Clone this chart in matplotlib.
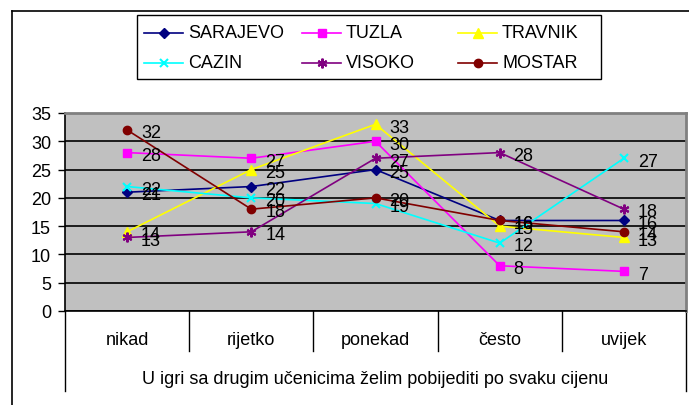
import matplotlib.pyplot as plt
from matplotlib.lines import Line2D
from matplotlib.patches import Rectangle

categories = ['nikad', 'rijetko', 'ponekad', 'često', 'uvijek']
sarajevo = [21, 22, 25, 16, 16]
tuzla = [28, 27, 30, 8, 7]
travnik = [14, 25, 33, 15, 13]
cazin = [22, 20, 19, 12, 27]
visoko = [13, 14, 27, 28, 18]
mostar = [32, 18, 20, 16, 14]
axis_title = 'U igri sa drugim učenicima želim pobijediti po svaku cijenu'

series = [
    ('SARAJEVO', sarajevo, '#000080', 'D', 5.5),
    ('TUZLA', tuzla, '#FF00FF', 's', 6),
    ('TRAVNIK', travnik, '#FFFF00', '^', 7),
    ('CAZIN', cazin, '#00FFFF', 'x', 6),
    ('VISOKO', visoko, '#800080', (6, 2, 0), 7),
    ('MOSTAR', mostar, '#800000', 'o', 6),
]

plt.rcParams['font.family'] = ['Liberation Sans', 'DejaVu Sans']

W, H = 689, 406


def px(x, y):
    # pixel position (from top-left) to figure fraction
    return x / W, 1 - y / H


fig = plt.figure(figsize=(W / 100, H / 100), dpi=100)
ax = fig.add_axes([65 / W, 1 - 312 / H, (686 - 65) / W, (312 - 114) / H])
ax.set_facecolor('#C0C0C0')

x = list(range(len(categories)))
styles = {}
for name, vals, col, mk, ms in series:
    mew = 1.5 if mk == 'x' or isinstance(mk, tuple) else 1
    kw = dict(color=col, marker=mk, markersize=ms, linewidth=1.2, markeredgewidth=mew)
    styles[name] = kw
    ax.plot(x, vals, zorder=3, **kw)
    for xi, v in zip(x, vals):
        ax.annotate(str(v), (xi, v), xytext=(10, -2), textcoords='offset points',
                    ha='left', va='center', fontsize=13, color='black', zorder=4)

ax.set_xlim(-0.5, 4.5)
ax.set_ylim(0, 35)
ax.set_yticks(range(0, 36, 5))
ax.yaxis.grid(True, color='black', linewidth=1.2)
ax.set_axisbelow(True)
ax.set_xticks([])
ax.tick_params(axis='y', labelsize=13, length=5, width=1, direction='out', pad=5)
for s in ['top', 'right']:
    ax.spines[s].set_color('#808080')
    ax.spines[s].set_linewidth(2)
ax.spines['left'].set_linewidth(1.2)
ax.spines['bottom'].set_linewidth(1.2)

# category axis below the plot
axh = 312 - 114
trans = ax.get_xaxis_transform()
for b in [0.5, 1.5, 2.5, 3.5]:
    ax.add_line(Line2D([b, b], [0, -40 / axh], transform=trans, color='black',
                       linewidth=1, clip_on=False))
for b in [-0.5, 4.5]:
    ax.add_line(Line2D([b, b], [0, -80 / axh], transform=trans, color='black',
                       linewidth=1, clip_on=False))
for xi, c in zip(x, categories):
    ax.text(xi, -29 / axh, c, transform=trans, ha='center', va='center', fontsize=13)
ax.text(2, -68 / axh, axis_title, transform=trans, ha='center', va='center', fontsize=13)

# outer chart frame
fig.add_artist(Line2D([12 / W, 12 / W], [0, 1 - 12 / H], color='black', linewidth=1.2))
fig.add_artist(Line2D([12 / W, 1], [1 - 12 / H, 1 - 12 / H], color='black', linewidth=1.2))

# legend, laid out in a 3x2 grid like the original
x0, y0 = px(137, 80)
x1, y1 = px(601, 16)
fig.add_artist(Rectangle((x0, y0), x1 - x0, y1 - y0, transform=fig.transFigure,
                         facecolor='white', edgecolor='black', linewidth=1))
col_x = [144, 302, 458]
row_y = [34, 64]
legend_rows = [['SARAJEVO', 'TUZLA', 'TRAVNIK'], ['CAZIN', 'VISOKO', 'MOSTAR']]
for r, names in enumerate(legend_rows):
    for c, name in enumerate(names):
        hx = col_x[c]
        yy = row_y[r]
        kw = dict(styles[name])
        ax_line = Line2D([px(hx, yy)[0], px(hx + 39, yy)[0]], [px(hx, yy)[1]] * 2,
                         transform=fig.transFigure, color=kw['color'],
                         linewidth=kw['linewidth'])
        fig.add_artist(ax_line)
        fig.add_artist(Line2D([px(hx + 19.5, yy)[0]], [px(hx + 19.5, yy)[1]],
                              transform=fig.transFigure, linestyle='none',
                              color=kw['color'], marker=kw['marker'],
                              markersize=kw['markersize'],
                              markeredgewidth=kw['markeredgewidth']))
        fig.text(*px(hx + 44, yy), name, ha='left', va='center', fontsize=13)

fig.savefig('out.png', dpi=100)
